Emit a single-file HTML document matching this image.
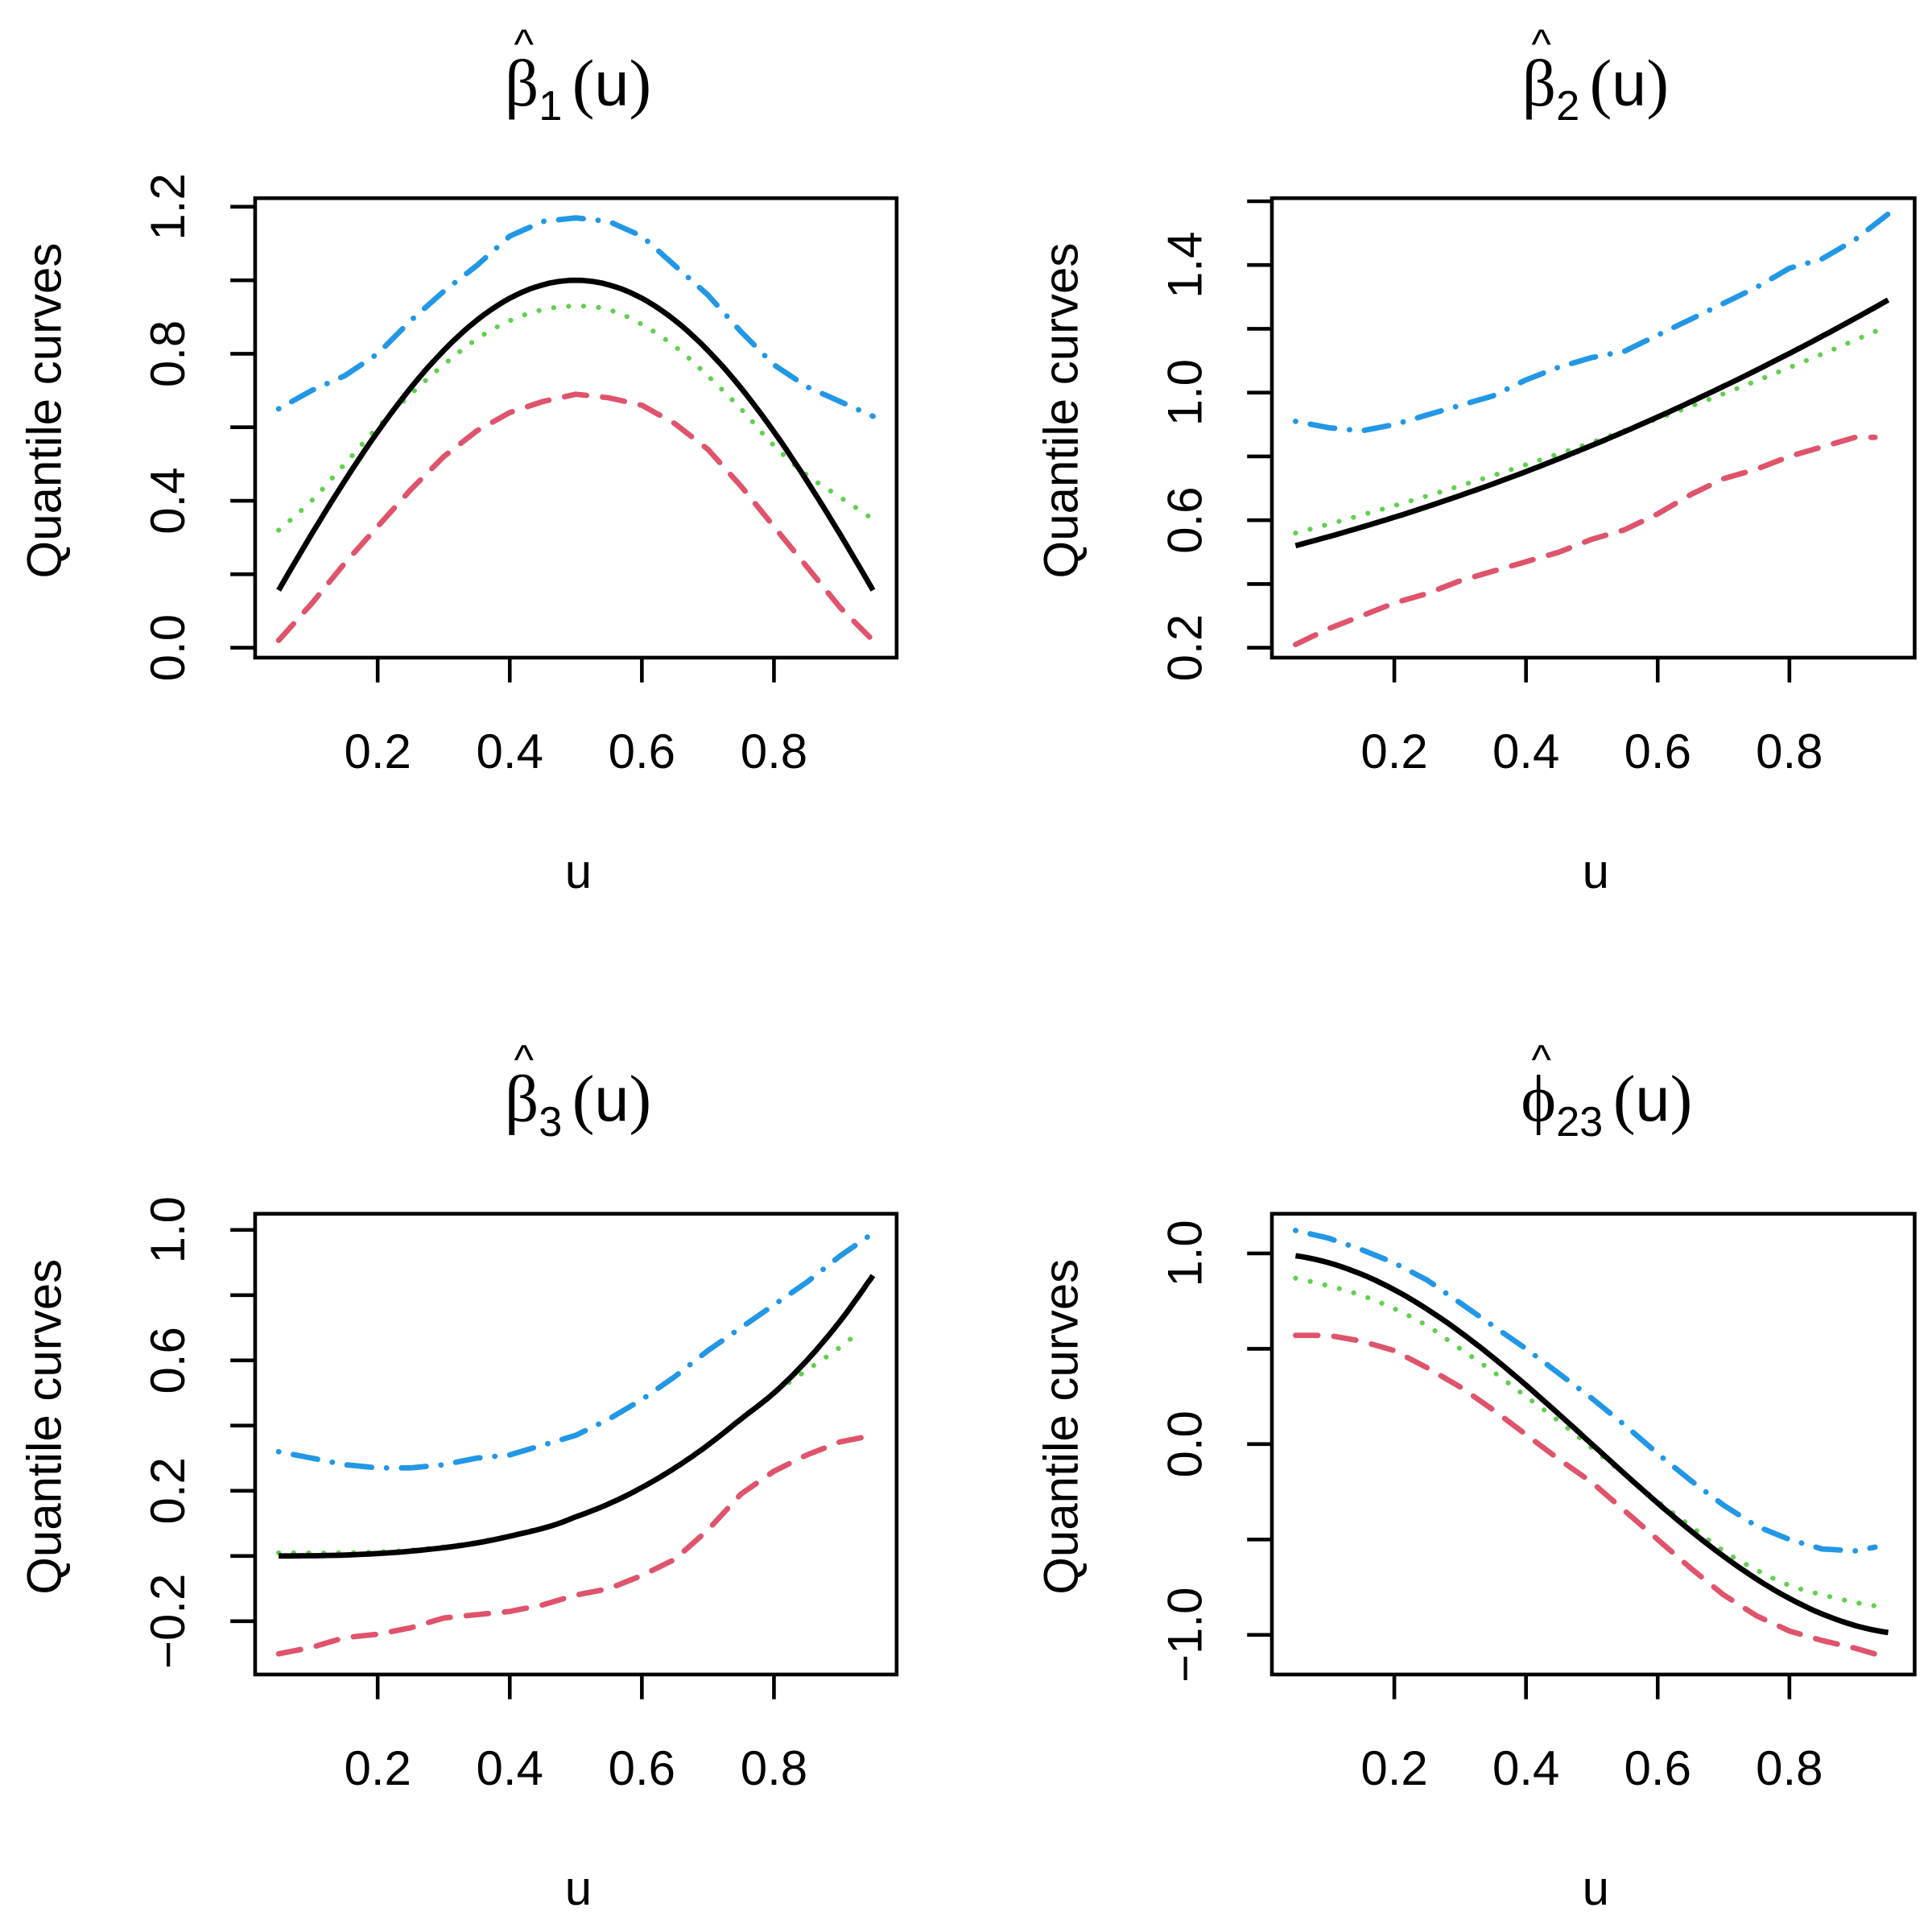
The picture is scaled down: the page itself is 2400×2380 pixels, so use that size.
<!DOCTYPE html>
<html><head><meta charset="utf-8"><style>
html,body{margin:0;padding:0;background:#fff;}
svg{display:block;}
text{font-family:"Liberation Sans",sans-serif;fill:#000;}
</style></head><body>
<svg id="s" width="2400" height="2380" viewBox="0 0 1560 1547" xmlns="http://www.w3.org/2000/svg"></svg>
<script>
const S=document.getElementById('s');
let out='';
const b3=[[0.05,0],[0.15,0.003],[0.25,0.015],[0.35,0.04],[0.45,0.085],[0.5,0.12],[0.55,0.16],[0.6,0.21],[0.65,0.27],[0.7,0.34],[0.75,0.42],[0.8,0.5],[0.85,0.6],[0.9,0.72],[0.95,0.86]];
const panels=[
 {bx:206,by:160,bw:518,bh:371, x0:198.3, xs:533.3, yv0:0, yp0:523, ys:-296.7, yt:[0,0.2,0.4,0.6,0.8,1.0,1.2], yl:{0:'0.0',0.4:'0.4',0.8:'0.8',1.2:'1.2'}, sub:'1', sym:'β',
  black:u=>Math.sin(Math.PI*u),
  green:[[0.05,0.32],[0.1,0.4],[0.15,0.5],[0.2,0.6],[0.25,0.69],[0.3,0.77],[0.35,0.84],[0.4,0.89],[0.45,0.92],[0.5,0.93],[0.55,0.92],[0.6,0.88],[0.65,0.82],[0.7,0.74],[0.75,0.65],[0.8,0.55],[0.85,0.47],[0.9,0.41],[0.95,0.35]],
  blue:[[0.05,0.65],[0.1,0.7],[0.15,0.74],[0.2,0.8],[0.25,0.89],[0.3,0.97],[0.35,1.04],[0.4,1.12],[0.45,1.16],[0.5,1.17],[0.55,1.16],[0.6,1.12],[0.65,1.04],[0.7,0.96],[0.75,0.86],[0.8,0.77],[0.85,0.71],[0.9,0.67],[0.95,0.63]],
  red:[[0.05,0.02],[0.1,0.12],[0.15,0.23],[0.2,0.33],[0.25,0.43],[0.3,0.52],[0.35,0.59],[0.4,0.64],[0.45,0.67],[0.5,0.69],[0.55,0.68],[0.6,0.66],[0.65,0.61],[0.7,0.54],[0.75,0.44],[0.8,0.33],[0.85,0.22],[0.9,0.11],[0.95,0.02]]},
 {bx:1027,by:160,bw:519,bh:371, x0:1019.5, xs:531.7, yv0:0.2, yp0:523, ys:-257.5, yt:[0.2,0.4,0.6,0.8,1.0,1.2,1.4,1.6], yl:{0.2:'0.2',0.6:'0.6',1.0:'1.0',1.4:'1.4'}, sub:'2', sym:'β',
  black:u=>0.494+0.506*u+0.35*u*u,
  green:u=>0.533+0.522*u+0.2*u*u,
  blue:[[0.05,0.91],[0.1,0.89],[0.15,0.88],[0.2,0.9],[0.25,0.93],[0.3,0.96],[0.35,0.99],[0.4,1.04],[0.45,1.08],[0.5,1.11],[0.55,1.13],[0.6,1.18],[0.65,1.23],[0.7,1.28],[0.75,1.33],[0.8,1.39],[0.85,1.42],[0.9,1.48],[0.95,1.56]],
  red:[[0.05,0.21],[0.1,0.26],[0.15,0.3],[0.2,0.34],[0.25,0.37],[0.3,0.41],[0.35,0.44],[0.4,0.47],[0.45,0.5],[0.5,0.54],[0.55,0.57],[0.6,0.62],[0.65,0.68],[0.7,0.73],[0.75,0.76],[0.8,0.8],[0.85,0.83],[0.9,0.86],[0.93,0.86]]},
 {bx:206,by:980,bw:518,bh:372, x0:198.3, xs:533.3, yv0:-0.2, yp0:1309, ys:-263.3, yt:[-0.2,0,0.2,0.4,0.6,0.8,1.0], yl:{'-0.2':'−0.2',0.2:'0.2',0.6:'0.6',1.0:'1.0'}, sub:'3', sym:'β',
  black:b3,
  green:[[0.05,0.01],[0.15,0.01],[0.25,0.018],[0.35,0.042],[0.45,0.087],[0.5,0.12],[0.55,0.16],[0.6,0.21],[0.65,0.27],[0.7,0.34],[0.75,0.42],[0.8,0.5],[0.85,0.57],[0.9,0.64],[0.93,0.69]],
  blue:[[0.05,0.32],[0.1,0.3],[0.15,0.28],[0.2,0.27],[0.25,0.27],[0.3,0.28],[0.35,0.3],[0.4,0.31],[0.45,0.34],[0.5,0.37],[0.55,0.42],[0.6,0.48],[0.65,0.55],[0.7,0.63],[0.75,0.7],[0.8,0.77],[0.85,0.84],[0.9,0.92],[0.95,0.99]],
  red:[[0.05,-0.3],[0.1,-0.28],[0.15,-0.25],[0.2,-0.24],[0.25,-0.22],[0.3,-0.19],[0.35,-0.18],[0.4,-0.17],[0.45,-0.15],[0.5,-0.12],[0.55,-0.1],[0.6,-0.06],[0.65,-0.01],[0.7,0.08],[0.75,0.19],[0.8,0.26],[0.85,0.31],[0.9,0.35],[0.95,0.37]]},
 {bx:1027,by:980,bw:519,bh:372, x0:1019.5, xs:531.7, yv0:-1.0, yp0:1320, ys:-154, yt:[-1.0,-0.5,0,0.5,1.0], yl:{'-1':'−1.0',0:'0.0',1:'1.0'}, sub:'23', sym:'ϕ',
  black:u=>Math.cos(Math.PI*u)*1.0,
  green:[[0.05,0.87],[0.1,0.83],[0.15,0.78],[0.2,0.71],[0.25,0.62],[0.3,0.5],[0.35,0.38],[0.4,0.25],[0.45,0.12],[0.5,-0.02],[0.55,-0.16],[0.6,-0.3],[0.65,-0.43],[0.7,-0.56],[0.75,-0.66],[0.8,-0.74],[0.85,-0.79],[0.9,-0.83],[0.95,-0.86]],
  blue:[[0.05,1.12],[0.1,1.08],[0.15,1.02],[0.2,0.95],[0.25,0.86],[0.3,0.74],[0.35,0.62],[0.4,0.5],[0.45,0.37],[0.5,0.24],[0.55,0.1],[0.6,-0.05],[0.65,-0.19],[0.7,-0.32],[0.75,-0.43],[0.8,-0.5],[0.85,-0.55],[0.9,-0.56],[0.93,-0.54]],
  red:[[0.05,0.57],[0.1,0.57],[0.15,0.54],[0.2,0.49],[0.25,0.4],[0.3,0.3],[0.35,0.18],[0.4,0.05],[0.45,-0.08],[0.5,-0.2],[0.55,-0.35],[0.6,-0.5],[0.65,-0.65],[0.7,-0.79],[0.75,-0.9],[0.8,-0.98],[0.85,-1.03],[0.9,-1.07],[0.95,-1.12]]}
];
function smooth(a){
  const r=[];
  for(let i=0;i<a.length-1;i++){
    const p0=a[Math.max(0,i-1)],p1=a[i],p2=a[i+1],p3=a[Math.min(a.length-1,i+2)];
    for(let k=0;k<8;k++){const t=k/8,t2=t*t,t3=t2*t;
      const f=j=>0.5*((2*p1[j])+(-p0[j]+p2[j])*t+(2*p0[j]-5*p1[j]+4*p2[j]-p3[j])*t2+(-p0[j]+3*p1[j]-3*p2[j]+p3[j])*t3);
      r.push([f(0),f(1)]);}
  }
  r.push(a[a.length-1]);return r;
}
function pts(p,f,sm){
  let a=[];
  if(typeof f==='function'){for(let i=0;i<=90;i++){let u=0.05+0.9*i/90;a.push([u,f(u)]);}}
  else a=sm?smooth(f):f;
  return a.map(([u,v])=>(p.x0+p.xs*u).toFixed(1)+','+(p.yp0+(v-p.yv0)*p.ys).toFixed(1)).join(' ');
}
panels.forEach(p=>{
  const st={green:'stroke="#61D04F" stroke-width="4" stroke-dasharray="0.1 12" stroke-linecap="round"',
    blue:'stroke="#2297E6" stroke-width="4.4" stroke-dasharray="0.1 12 20 12" stroke-linecap="round"',
    red:'stroke="#DF536B" stroke-width="4.4" stroke-dasharray="18 13" stroke-linecap="round"',
    black:'stroke="#000" stroke-width="4.4"'};
  ['red','blue','green','black'].forEach(k=>{out+=`<polyline fill="none" stroke-linejoin="round" ${st[k]} points="${pts(p,p[k],k==='black'||k==='green')}"/>`;});
  out+=`<rect x="${p.bx}" y="${p.by}" width="${p.bw}" height="${p.bh}" fill="none" stroke="#000" stroke-width="3"/>`;
  [0.2,0.4,0.6,0.8].forEach(u=>{let x=p.x0+p.xs*u;out+=`<line x1="${x}" y1="${p.by+p.bh}" x2="${x}" y2="${p.by+p.bh+20}" stroke="#000" stroke-width="3"/><text x="${x}" y="${p.by+p.bh+89}" font-size="39" text-anchor="middle">${u.toFixed(1)}</text>`;});
  p.yt.forEach(v=>{let y=p.yp0+(v-p.yv0)*p.ys;out+=`<line x1="${p.bx-20}" y1="${y}" x2="${p.bx}" y2="${y}" stroke="#000" stroke-width="3"/>`;});
  Object.keys(p.yl).forEach(k=>{let v=parseFloat(k);let y=p.yp0+(v-p.yv0)*p.ys;let x=p.bx-57;out+=`<text transform="translate(${x},${y}) rotate(-90)" font-size="39" text-anchor="middle">${p.yl[k]}</text>`;});
  let cx=p.bx+p.bw/2;
  out+=`<text transform="translate(${p.bx-157},${p.by+p.bh/2-14}) rotate(-90)" font-size="39" text-anchor="middle">Quantile curves</text>`;
  out+=`<text x="${cx+2}" y="${p.by+p.bh+186}" font-size="39" text-anchor="middle">u</text>`;
  let ty=p.by-75;
  out+=`<text x="${cx-30}" y="${ty}" font-size="54" text-anchor="end" style="font-family:'Liberation Serif',serif">${p.sym}</text>`;
  out+=`<text x="${cx-42}" y="${ty-38}" font-size="34" text-anchor="middle">^</text>`;
  out+=`<text x="${cx-30}" y="${ty+12}" font-size="34">${p.sub}</text>`;
  let off=p.sub.length>1?16:-3;
  out+=`<text x="${cx+off}" y="${ty}" font-size="54" style="font-family:'Liberation Serif',serif">(</text>`;
  out+=`<text x="${cx+off+18}" y="${ty}" font-size="50">u</text>`;
  out+=`<text x="${cx+off+46}" y="${ty}" font-size="54" style="font-family:'Liberation Serif',serif">)</text>`;
});
S.innerHTML=out;
</script>
</body></html>
